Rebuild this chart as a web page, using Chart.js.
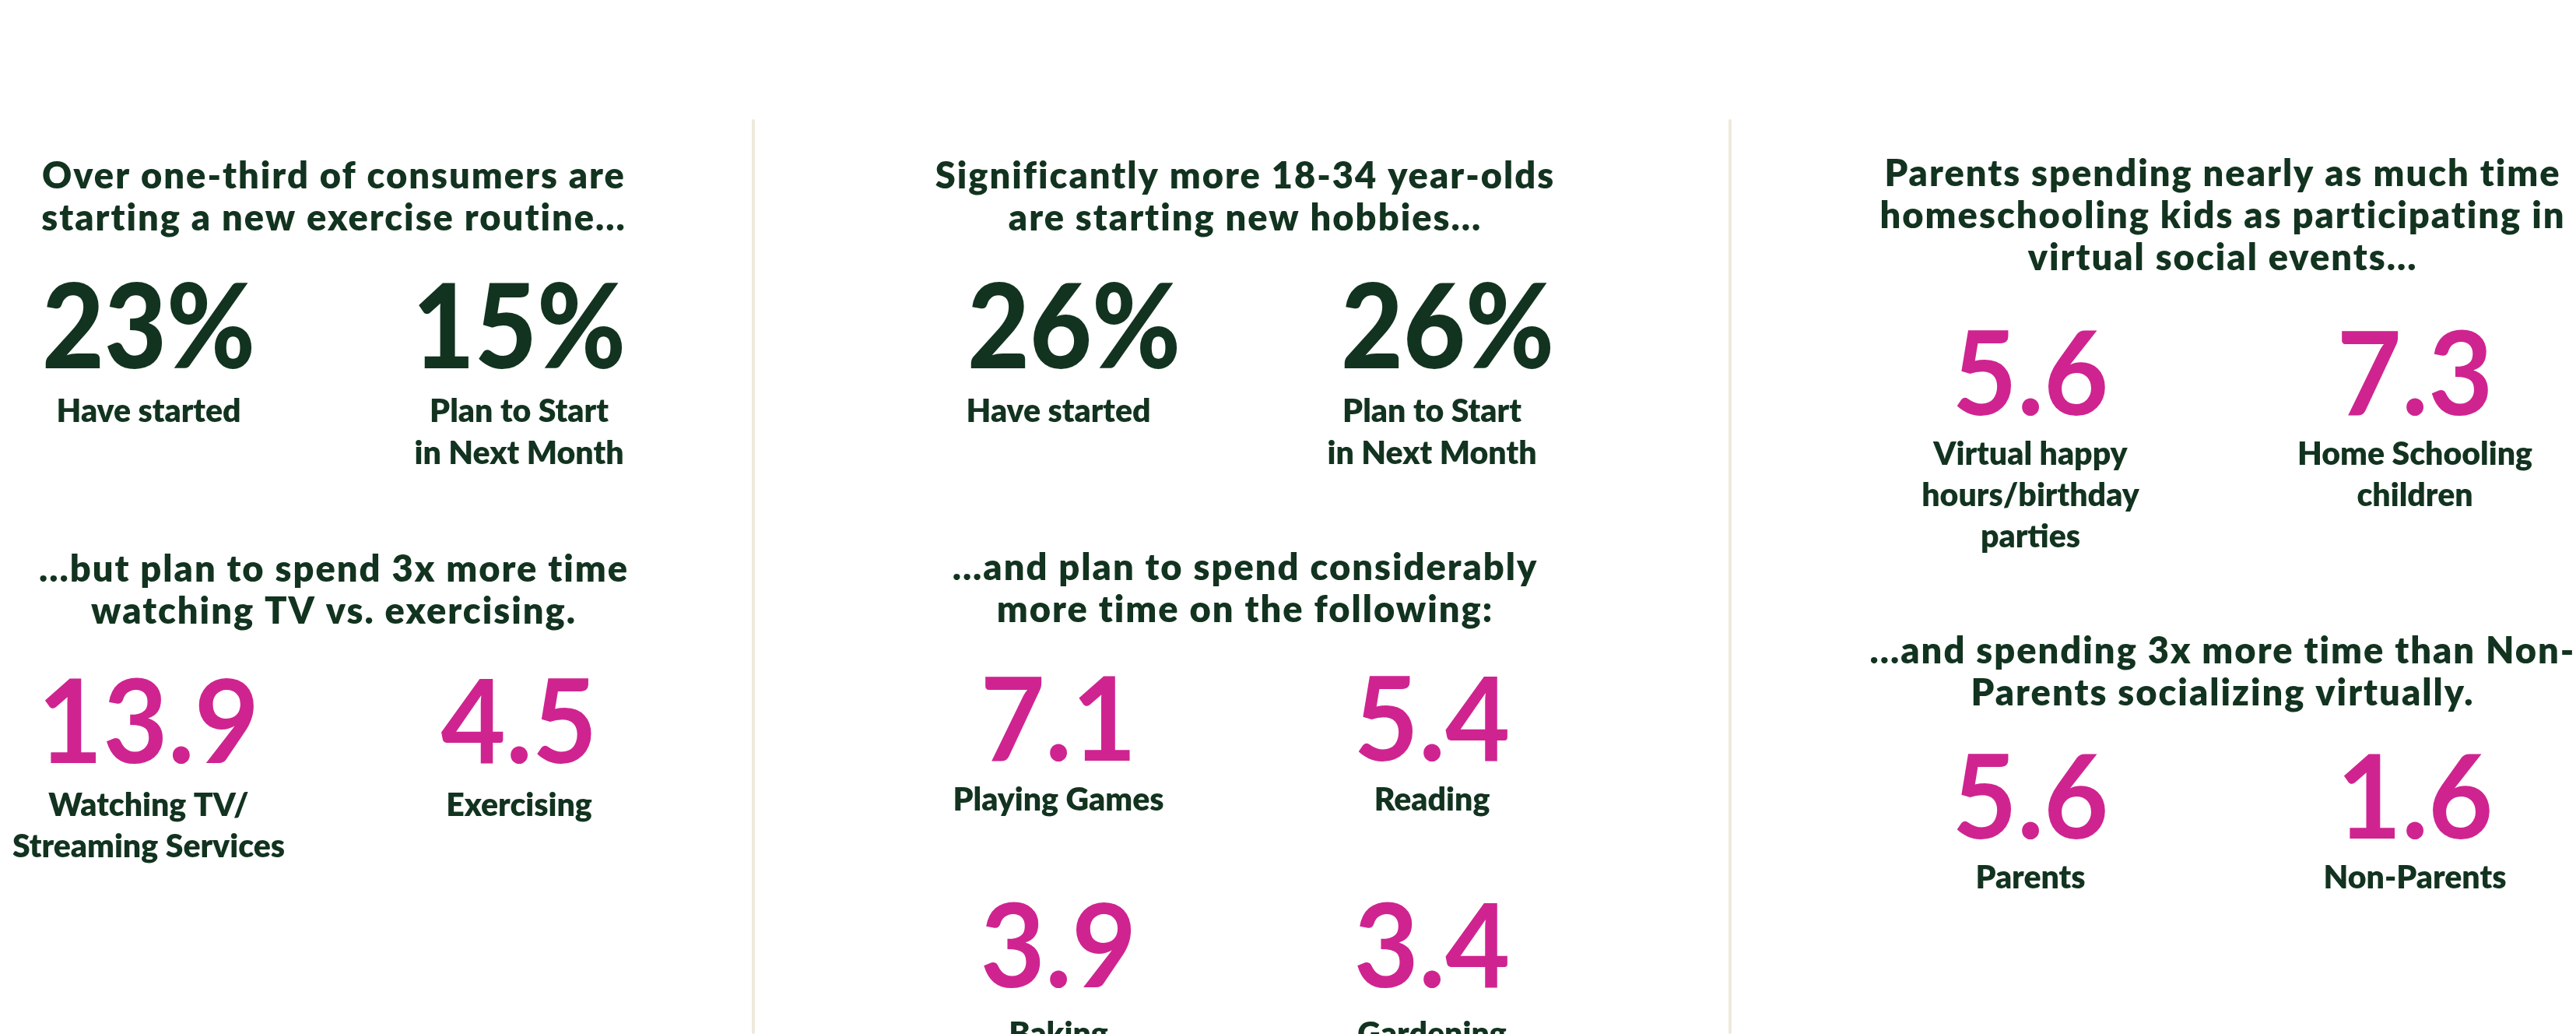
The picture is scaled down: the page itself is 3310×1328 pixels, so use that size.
<!DOCTYPE html>
<html>
<head>
<meta charset="utf-8">
<script src="https://cdn.jsdelivr.net/npm/chart.js"></script>
<style>
  html, body { margin: 0; padding: 0; background: #fff; }
  body { width: 3310px; height: 1328px; position: relative; overflow: hidden; }
  .block { position: absolute; }
  .rule { position: absolute; top: 153px; bottom: 0; width: 4px; background: #EEEADB; border-radius: 2px; }
</style>
</head>
<body>
<div class="rule" style="left:966px"></div>
<div class="rule" style="left:2221px"></div>

<div class="block" style="left:-47px;top:150px;width:952px;height:463px"><canvas id="exercise"></canvas></div>
<div class="block" style="left:-47px;top:650px;width:952px;height:467px"><canvas id="tv"></canvas></div>
<div class="block" style="left:1120px;top:150px;width:960px;height:463px"><canvas id="hobbies"></canvas></div>
<div class="block" style="left:1120px;top:650px;width:960px;height:437px"><canvas id="activities1"></canvas></div>
<div class="block" style="left:1120px;top:1100px;width:960px;height:260px"><canvas id="activities2"></canvas></div>
<div class="block" style="left:2362px;top:150px;width:988px;height:567px"><canvas id="parents"></canvas></div>
<div class="block" style="left:2362px;top:700px;width:988px;height:461px"><canvas id="social"></canvas></div>

<script>
// titles
const exerciseTitle = ['Over one-third of consumers are', 'starting a new exercise routine...'];
const tvTitle = ['...but plan to spend 3x more time', 'watching TV vs. exercising.'];
const hobbiesTitle = ['Significantly more 18-34 year-olds', 'are starting new hobbies...'];
const activitiesTitle = ['...and plan to spend considerably', 'more time on the following:'];
const parentsTitle = ['Parents spending nearly as much time', 'homeschooling kids as participating in', 'virtual social events...'];
const socialTitle = ['...and spending 3x more time than Non-', 'Parents socializing virtually.'];

// categories and values
const exerciseLabels = ['Have started', ['Plan to Start', 'in Next Month']];
const exerciseValues = [23, 15];            // % of consumers

const tvLabels = [['Watching TV/', 'Streaming Services'], 'Exercising'];
const tvValues = [13.9, 4.5];               // hours

const hobbiesLabels = ['Have started', ['Plan to Start', 'in Next Month']];
const hobbiesValues = [26, 26];             // % of 18-34 year-olds

const activitiesLabels1 = ['Playing Games', 'Reading'];
const activitiesValues1 = [7.1, 5.4];
const activitiesLabels2 = ['Baking', 'Gardening'];
const activitiesValues2 = [3.9, 3.4];

const parentsLabels = [['Virtual happy', 'hours/birthday', 'parties'], ['Home Schooling', 'children']];
const parentsValues = [5.6, 7.3];

const socialLabels = ['Parents', 'Non-Parents'];
const socialValues = [5.6, 1.6];

const GREEN = '#12331F';
const PINK = '#CF2490';
const FONT = 'Lato, "Noto Sans", sans-serif';
const TITLE_SPACING = '2px';

const pct = v => v + '%';
const hrs = v => v.toFixed(1);

// wide tracking for the headings, then each value as a big number centred on its category
const bigNumbers = {
  id: 'bigNumbers',
  beforeDraw(chart) {
    chart.ctx.letterSpacing = TITLE_SPACING;
  },
  afterDatasetsDraw(chart, args, opts) {
    const ctx = chart.ctx;
    ctx.letterSpacing = '0px';
    const meta = chart.getDatasetMeta(0);
    const values = chart.data.datasets[0].data;
    ctx.save();
    ctx.font = opts.font;
    ctx.fillStyle = opts.color;
    ctx.textAlign = 'center';
    ctx.textBaseline = 'alphabetic';
    meta.data.forEach((bar, i) => {
      ctx.save();
      ctx.translate(bar.x + opts.shift, chart.chartArea.bottom);
      ctx.scale(opts.squeeze, 1);
      ctx.fillText(opts.format(values[i]), 0, 0);
      ctx.restore();
    });
    ctx.restore();
  }
};

function statBlock(id, o) {
  return new Chart(document.getElementById(id), {
    type: 'bar',
    data: {
      labels: o.labels,
      datasets: [{ data: o.values, backgroundColor: 'rgba(0,0,0,0)', borderWidth: 0 }]
    },
    options: {
      responsive: true,
      maintainAspectRatio: false,
      animation: false,
      events: [],
      layout: { padding: 0 },
      plugins: {
        legend: { display: false },
        tooltip: { enabled: false },
        title: {
          display: !!o.title,
          text: o.title || '',
          color: GREEN,
          font: { family: FONT, size: 47, weight: 800, lineHeight: 54 / 47 },
          padding: { top: o.titleTop || 0, bottom: 0 }
        },
        bigNumbers: {
          font: o.numFont, color: o.color, format: o.format,
          squeeze: o.color === GREEN ? 0.92 : 0.96, shift: o.numShift || 0
        }
      },
      scales: {
        x: {
          grid: { display: false },
          border: { display: false },
          ticks: {
            z: 1,
            color: GREEN,
            font: { family: FONT, size: 41, weight: 800, lineHeight: o.labelLH / 41 },
            padding: o.labelGap,
            autoSkip: false,
            maxRotation: 0
          },
          afterFit: s => { s.height = o.axisH; }
        },
        y: { display: false, min: 0, max: 100 }
      }
    },
    plugins: [bigNumbers]
  });
}

const greenNum = '900 150px ' + FONT;
const pinkNum = '700 150px ' + FONT;

statBlock('exercise', { title: exerciseTitle, labels: exerciseLabels, values: exerciseValues, format: pct,
  color: GREEN, numFont: greenNum, titleTop: 50, labelGap: 21, labelLH: 54, axisH: 140 });
statBlock('tv', { title: tvTitle, labels: tvLabels, values: tvValues, format: hrs,
  color: PINK, numFont: pinkNum, titleTop: 55, labelGap: 20, labelLH: 53, axisH: 137 });
statBlock('hobbies', { title: hobbiesTitle, labels: hobbiesLabels, values: hobbiesValues, format: pct,
  color: GREEN, numFont: greenNum, titleTop: 50, labelGap: 21, labelLH: 54, axisH: 140, numShift: 20 });
statBlock('activities1', { title: activitiesTitle, labels: activitiesLabels1, values: activitiesValues1, format: hrs,
  color: PINK, numFont: pinkNum, titleTop: 53, labelGap: 16, labelLH: 53, axisH: 110 });
statBlock('activities2', { labels: activitiesLabels2, values: activitiesValues2, format: hrs,
  color: PINK, numFont: pinkNum, labelGap: 26, labelLH: 53, axisH: 92 });
statBlock('parents', { title: parentsTitle, labels: parentsLabels, values: parentsValues, format: hrs,
  color: PINK, numFont: pinkNum, titleTop: 47, labelGap: 16, labelLH: 53, axisH: 184 });
statBlock('social', { title: socialTitle, labels: socialLabels, values: socialValues, format: hrs,
  color: PINK, numFont: pinkNum, titleTop: 110, labelGap: 16, labelLH: 53, axisH: 84 });
</script>
</body>
</html>
